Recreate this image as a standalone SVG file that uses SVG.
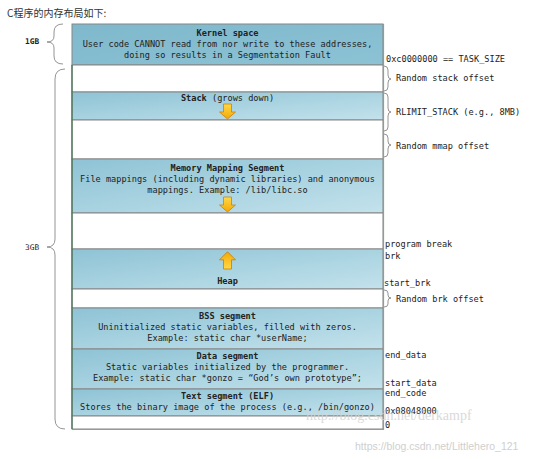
<svg xmlns="http://www.w3.org/2000/svg" width="536" height="459" viewBox="0 0 536 459">
<defs>
<linearGradient id="seg" x1="0" y1="0" x2="1" y2="1">
<stop offset="0" stop-color="#8ec3d5"/>
<stop offset="1" stop-color="#c3e2ec"/>
</linearGradient>
<linearGradient id="kern" x1="0" y1="0" x2="1" y2="1">
<stop offset="0" stop-color="#7fb8cc"/>
<stop offset="1" stop-color="#8cc2d4"/>
</linearGradient>
<linearGradient id="arr" x1="0" y1="0" x2="0" y2="1">
<stop offset="0" stop-color="#ffd84a"/>
<stop offset="1" stop-color="#f5a800"/>
</linearGradient>
<path id="down" d="M-4,0 h8 v8 h4 l-8,7 l-8,-7 h4 z"/>
</defs>
<style>
text{font-family:"DejaVu Sans Mono","Liberation Mono",monospace;font-size:8.6px;fill:#222}
.c{text-anchor:middle}
.b{font-weight:bold}
.seg{fill:url(#seg);stroke:#868686;stroke-width:1}
.wh{fill:#fff;stroke:#868686;stroke-width:1}
.br{fill:none;stroke:#7a7a7a;stroke-width:0.8}
.ar{fill:url(#arr);stroke:#c47a00;stroke-width:0.7}
.ttl{font-family:"Noto Sans CJK SC","Noto Sans",sans-serif;font-size:10px;fill:#333}
.wm1{font-family:"Liberation Serif",serif;font-size:14px;fill:#d4d4d4;opacity:0.85}
.wm2{font-family:"Liberation Sans",sans-serif;font-size:10.5px;fill:#cfcfcf}
.gb{font-size:7.8px}
</style>

<text class="ttl" x="7" y="17">C程序的内存布局如下:</text>

<g id="kernel">
<rect class="seg" x="72" y="24" width="311" height="41" style="fill:url(#kern)"/>
<text class="c b" x="227.5" y="36">Kernel space</text>
<text class="c" x="227.5" y="47">User code CANNOT read from nor write to these addresses,</text>
<text class="c" x="227.5" y="58">doing so results in a Segmentation Fault</text>
</g>
<g id="gap-stack"><rect class="wh" x="72" y="65" width="311" height="27"/></g>
<g id="stack">
<rect class="seg" x="72" y="92" width="311" height="28"/>
<text class="c" x="227.5" y="101"><tspan class="b">Stack</tspan> (grows down)</text>
<use href="#down" class="ar" x="227.5" y="104"/>
</g>
<g id="gap-mmap"><rect class="wh" x="72" y="120" width="311" height="39"/></g>
<g id="mmap">
<rect class="seg" x="72" y="159" width="311" height="54"/>
<text class="c b" x="227.5" y="171">Memory Mapping Segment</text>
<text class="c" x="227.5" y="182">File mappings (including dynamic libraries) and anonymous</text>
<text class="c" x="227.5" y="193">mappings. Example: /lib/libc.so</text>
<use href="#down" class="ar" x="227.5" y="197"/>
</g>
<g id="gap-free"><rect class="wh" x="72" y="213" width="311" height="36"/></g>
<g id="heap">
<rect class="seg" x="72" y="249" width="311" height="40"/>
<use href="#down" class="ar" transform="translate(227.5,269) scale(1,-1.15)"/>
<text class="c b" x="227.5" y="284">Heap</text>
</g>
<g id="gap-brk"><rect class="wh" x="72" y="289" width="311" height="19"/></g>
<g id="bss">
<rect class="seg" x="72" y="308" width="311" height="41"/>
<text class="c b" x="227.5" y="319">BSS segment</text>
<text class="c" x="227.5" y="330">Uninitialized static variables, filled with zeros.</text>
<text class="c" x="227.5" y="341">Example: static char *userName;</text>
</g>
<g id="data">
<rect class="seg" x="72" y="349" width="311" height="40"/>
<text class="c b" x="227.5" y="359">Data segment</text>
<text class="c" x="227.5" y="370">Static variables initialized by the programmer.</text>
<text class="c" x="227.5" y="381">Example: static char *gonzo = “God’s own prototype”;</text>
</g>
<g id="text">
<rect class="seg" x="72" y="389" width="311" height="27"/>
<text class="c b" x="227.5" y="399">Text segment (ELF)</text>
<text class="c" x="227.5" y="410">Stores the binary image of the process (e.g., /bin/gonzo)</text>
</g>
<g id="gap-zero"><rect class="wh" x="72" y="416" width="311" height="13"/></g>
<g id="frame">
<line x1="72" y1="65" x2="72" y2="429" stroke="#3f6f4f" stroke-width="1.2"/>
<line x1="383.5" y1="24" x2="383.5" y2="430" stroke="#8aa090" stroke-width="1.2"/>
<line x1="72" y1="429.5" x2="384" y2="429.5" stroke="#8aa090" stroke-width="1"/>
</g>

<g id="connectors">
<path class="br" d="M63,24 q-9,0 -9,8 V36 q0,6 -7,6 q7,0 7,6 V56 q0,8 9,8"/>
<path class="br" d="M65,69 q-10,0 -10,10 V239 q0,8 -8,8 q8,0 8,8 V419 q0,10 10,10"/>
<path class="br" d="M384,66 q4,0 4,4 V75 q0,4 3,4 q-3,0 -3,4 V87 q0,4 -4,4"/>
<path class="br" d="M384,93 q4,0 4,4 V108 q0,4 3,4 q-3,0 -3,4 V127 q0,4 -4,4"/>
<path class="br" d="M384,134 q4,0 4,4 V141 q0,4 3,4 q-3,0 -3,4 V153 q0,4 -4,4"/>
<path class="br" d="M384,290 q4,0 4,3 V295 q0,3 3,3 q-3,0 -3,3 V304 q0,3 -4,3"/>
</g>

<g id="labels">
<text class="gb b" x="25" y="44">1GB</text>
<text class="gb" x="25" y="250">3GB</text>
<text x="386" y="62">0xc0000000 == TASK_SIZE</text>
<text x="396" y="81">Random stack offset</text>
<text x="396" y="115">RLIMIT_STACK (e.g., 8MB)</text>
<text x="396" y="149">Random mmap offset</text>
<text x="385" y="247">program break</text>
<text x="385" y="259">brk</text>
<text x="384" y="286">start_brk</text>
<text x="396" y="302">Random brk offset</text>
<text x="385" y="358">end_data</text>
<text x="385" y="386">start_data</text>
<text x="385" y="396">end_code</text>
<text x="385" y="414">0x08048000</text>
<text x="385" y="428">0</text>
</g>

<text class="wm1" x="306" y="420">http://blog.csdn.net/derkampf</text>
<text class="wm2" x="355" y="450">https://blog.csdn.net/Littlehero_121</text>
</svg>
